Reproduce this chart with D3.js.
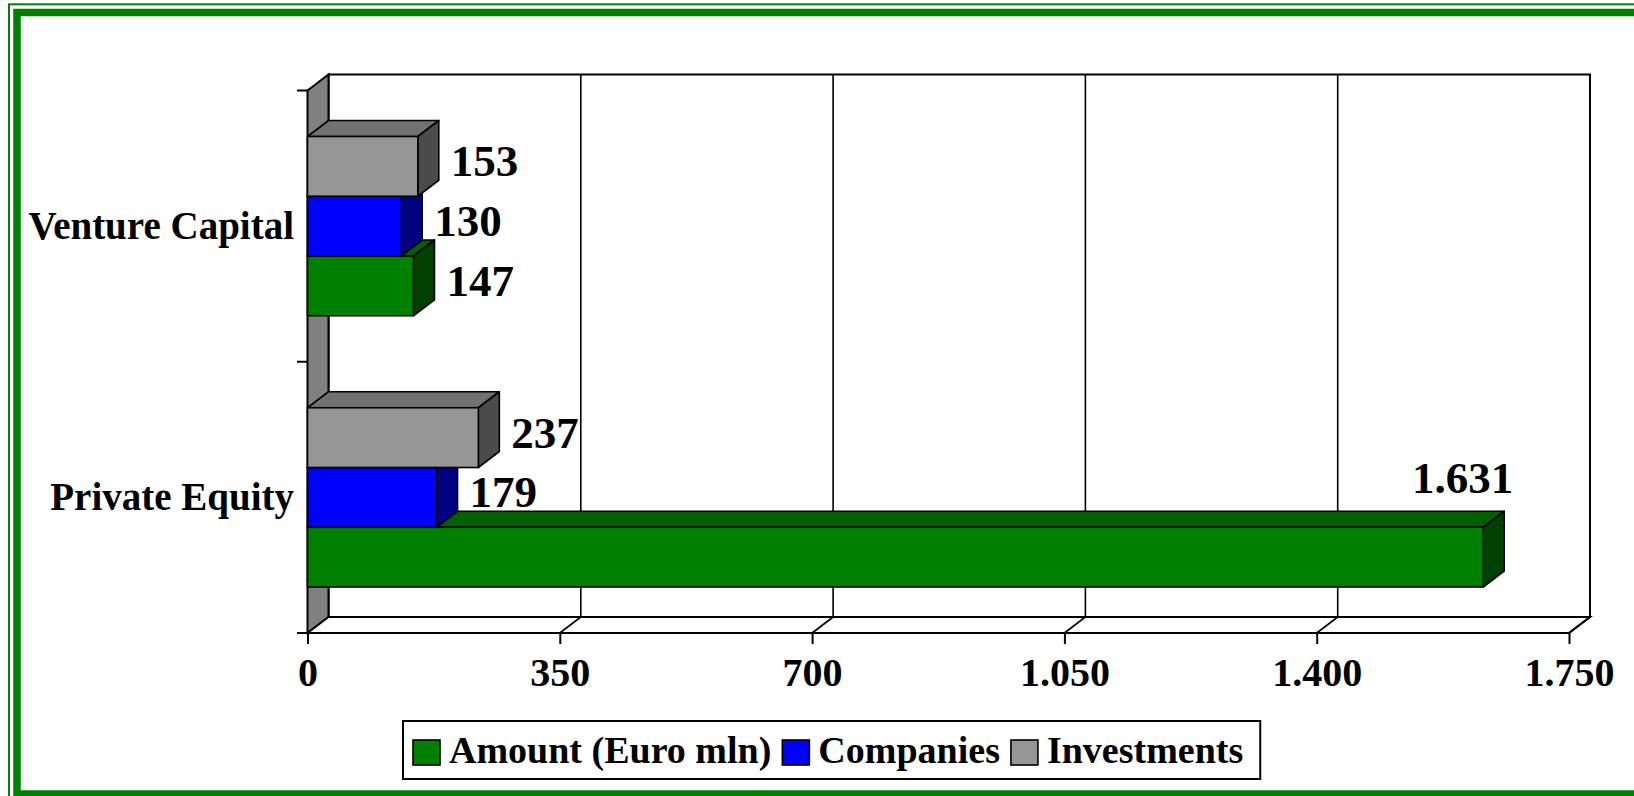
<!DOCTYPE html>
<html>
<head>
<meta charset="utf-8">
<script src="https://cdn.jsdelivr.net/npm/d3@7"></script>
<style>
  body { margin: 0; background: #fff; }
  text { font-family: "Liberation Serif", "Times New Roman", serif; font-weight: bold; fill: #000; }
</style>
</head>
<body>
<script>
var categories = ["Venture Capital", "Private Equity"];
var seriesNames = ["Amount (Euro mln)", "Companies", "Investments"];
var amount = [147, 1631];
var companies = [130, 179];
var investments = [153, 237];
var xTicks = [0, 350, 700, 1050, 1400, 1750];
var seriesColors = ["#008000", "#0000ff", "#969696"];

var width = 1634, height = 796;
var dx = 21, dy = 16;   // depth of the 3d box

var svg = d3.select("body").append("svg")
    .attr("width", width)
    .attr("height", height);

// frame
svg.append("rect").attr("x", 9).attr("y", 4.3).attr("width", 1640).attr("height", 800)
    .attr("fill", "none").attr("stroke", "#008000").attr("stroke-width", 2);
svg.append("rect").attr("x", 17).attr("y", 12.5).attr("width", 1621).attr("height", 781.5)
    .attr("fill", "none").attr("stroke", "#008000").attr("stroke-width", 7.5);

var x = d3.scaleLinear().domain([0, 1750]).range([307.5, 1569]);
var y = d3.scaleBand().domain(categories).range([90.5, 633]);
var yInner = d3.scaleBand().domain(seriesNames.slice().reverse())
    .range([0, y.bandwidth()]).paddingOuter(0.77);

var fmt = d3.formatLocale({decimal: ",", thousands: ".", grouping: [3], currency: ["", "€"]}).format(",d");

var top0 = y.range()[0], bottom0 = y.range()[1];
var x0 = x(0), x1 = x(1750);

// back wall
svg.append("rect")
    .attr("x", x0 + dx).attr("y", top0 - dy)
    .attr("width", x1 - x0).attr("height", bottom0 - top0)
    .attr("fill", "#fff").attr("stroke", "#000").attr("stroke-width", 2);

// gridlines on back wall
svg.selectAll(".grid").data(xTicks.slice(1, -1)).enter().append("line")
    .attr("x1", function(d) { return x(d) + dx; })
    .attr("x2", function(d) { return x(d) + dx; })
    .attr("y1", top0 - dy).attr("y2", bottom0 - dy)
    .attr("stroke", "#000").attr("stroke-width", 1.6);

// side wall
svg.append("polygon")
    .attr("points", [[x0, top0], [x0 + dx, top0 - dy], [x0 + dx, bottom0 - dy], [x0, bottom0]].join(" "))
    .attr("fill", "#808080").attr("stroke", "#000").attr("stroke-width", 2);

// floor
svg.append("polygon")
    .attr("points", [[x0, bottom0], [x1, bottom0], [x1 + dx, bottom0 - dy], [x0 + dx, bottom0 - dy]].join(" "))
    .attr("fill", "#fff").attr("stroke", "#000").attr("stroke-width", 2);
svg.selectAll(".floorgrid").data(xTicks.slice(1)).enter().append("line")
    .attr("x1", function(d) { return x(d); })
    .attr("x2", function(d) { return x(d) + dx; })
    .attr("y1", bottom0).attr("y2", bottom0 - dy)
    .attr("stroke", "#000").attr("stroke-width", 1.6);

// x axis
var xAxis = svg.append("g")
    .attr("transform", "translate(0," + bottom0 + ")")
    .call(d3.axisBottom(x).tickValues(xTicks).tickFormat(fmt).tickSize(11).tickPadding(14));
xAxis.select(".domain").remove();
xAxis.selectAll("line").attr("stroke", "#000").attr("stroke-width", 2);
xAxis.selectAll("text").attr("font-size", 40).attr("dy", "0.71em")
    .style("font-family", "'Liberation Serif', serif").style("font-weight", "bold");
svg.append("line").attr("x1", x0 - 10.5).attr("x2", x1).attr("y1", bottom0).attr("y2", bottom0)
    .attr("stroke", "#000").attr("stroke-width", 2);

// y axis
var yTickPos = [top0].concat(categories.map(function(c) { return y(c) + y.bandwidth(); }));
svg.selectAll(".ytick").data(yTickPos).enter().append("line")
    .attr("x1", x0 - 10.5).attr("x2", x0)
    .attr("y1", function(d) { return d; }).attr("y2", function(d) { return d; })
    .attr("stroke", "#000").attr("stroke-width", 2);
svg.selectAll(".ylab").data(categories).enter().append("text")
    .attr("x", 294)
    .attr("y", function(d) { return y(d) + y.bandwidth() / 2; })
    .attr("dy", "0.32em")
    .attr("text-anchor", "end")
    .attr("font-size", 39)
    .text(function(d) { return d; });

// bars
var valuesBySeries = [amount, companies, investments];
var bars = [];
categories.forEach(function(c, i) {
  seriesNames.forEach(function(s, j) {
    bars.push({cat: c, series: s, value: valuesBySeries[j][i], color: seriesColors[j]});
  });
});

function shade(c, k) {
  var r = d3.rgb(c);
  return d3.rgb(r.r * k, r.g * k, r.b * k).toString();
}

var g = svg.selectAll(".bar").data(bars).enter().append("g").attr("class", "bar");
g.each(function(d) {
  var el = d3.select(this);
  var bx0 = x(0), bx1 = x(d.value);
  var by0 = y(d.cat) + yInner(d.series), by1 = by0 + yInner.bandwidth();
  el.append("polygon")
      .attr("points", [[bx0, by0], [bx1, by0], [bx1 + dx, by0 - dy], [bx0 + dx, by0 - dy]].join(" "))
      .attr("fill", shade(d.color, 0.75)).attr("stroke", "#000").attr("stroke-width", 1.6)
      .attr("stroke-linejoin", "round");
  el.append("polygon")
      .attr("points", [[bx1, by0], [bx1 + dx, by0 - dy], [bx1 + dx, by1 - dy], [bx1, by1]].join(" "))
      .attr("fill", shade(d.color, 0.5)).attr("stroke", "#000").attr("stroke-width", 1.6)
      .attr("stroke-linejoin", "round");
  el.append("rect")
      .attr("x", bx0).attr("y", by0).attr("width", bx1 - bx0).attr("height", by1 - by0)
      .attr("fill", d.color).attr("stroke", "#000").attr("stroke-width", 1.6);
});

// value labels
g.each(function(d) {
  var by0 = y(d.cat) + yInner(d.series), by1 = by0 + yInner.bandwidth();
  var t = svg.append("text").attr("font-size", 45).text(fmt(d.value));
  var w = t.node().getComputedTextLength();
  var lx = x(d.value) + dx + 12;
  if (lx + w > x1 + dx) {
    // no room at the right: put it above the bar
    t.attr("x", x(d.value) + dx + 9).attr("y", by0 - dy - 18).attr("text-anchor", "end");
  } else {
    t.attr("x", lx).attr("y", (by0 + by1) / 2 + 10);
  }
});

// legend
var legend = svg.append("g").attr("transform", "translate(403,721)");
var box = legend.append("rect").attr("height", 58).attr("fill", "#fff")
    .attr("stroke", "#000").attr("stroke-width", 2);
var lx = 10;
seriesNames.forEach(function(s, j) {
  legend.append("rect").attr("x", lx).attr("y", 19).attr("width", 27).attr("height", 25)
      .attr("fill", seriesColors[j]).attr("stroke", "#000").attr("stroke-width", 1.6);
  var t = legend.append("text").attr("x", lx + 36).attr("y", 42).attr("font-size", 38).text(s);
  lx += 36 + t.node().getComputedTextLength() + 11;
});
box.attr("width", lx + 6);
</script>
</body>
</html>
